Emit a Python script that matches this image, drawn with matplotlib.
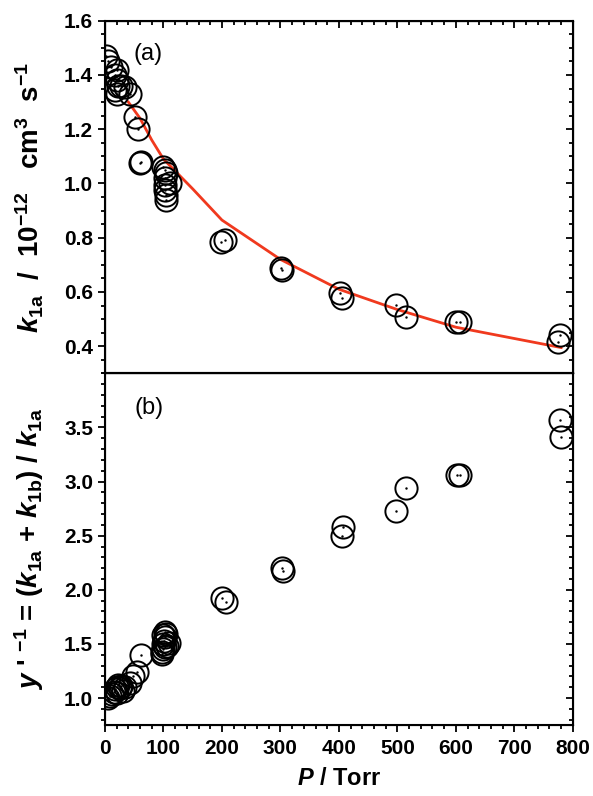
import numpy as np
import matplotlib.pyplot as plt
from matplotlib.ticker import MultipleLocator, FormatStrFormatter

plt.rcParams['font.family'] = ['Liberation Sans', 'DejaVu Sans']
plt.rcParams['font.weight'] = 'bold'
plt.rcParams['axes.labelweight'] = 'bold'
plt.rcParams['mathtext.fontset'] = 'custom'
plt.rcParams['mathtext.rm'] = 'Liberation Sans:bold'
plt.rcParams['mathtext.bf'] = 'Liberation Sans:bold'
plt.rcParams['mathtext.it'] = 'Liberation Sans:bold:italic'

# panel (a): k1a vs pressure
p_a = [2, 6, 11, 20, 18, 20, 22, 17, 20, 28, 34, 43, 51, 57, 60, 62,
       100, 102, 105, 103, 103, 102, 104, 104, 111,
       199, 205, 301, 303, 402, 406, 497, 515, 601, 607, 775, 778]
k_a = [1.47, 1.45, 1.43, 1.42, 1.40, 1.38, 1.36, 1.345, 1.33, 1.36, 1.355, 1.33, 1.245, 1.20, 1.075, 1.08,
       1.06, 1.05, 1.037, 1.02, 0.994, 0.975, 0.957, 0.94, 1.00,
       0.785, 0.793, 0.69, 0.68, 0.595, 0.578, 0.551, 0.508, 0.489, 0.489, 0.415, 0.44]

# fitted curve in panel (a)
p_fit = [40, 60, 80, 100, 150, 200, 300, 400, 500, 600, 780]
k_fit = [1.30, 1.24, 1.16, 1.09, 0.98, 0.865, 0.72, 0.61, 0.535, 0.47, 0.395]

# panel (b): (k1a + k1b) / k1a vs pressure
p_b = [5, 8, 12, 15, 18, 20, 22, 20, 25, 28, 30, 35, 42, 48, 54, 62,
       98, 100, 102, 100, 101, 103, 100, 102, 104, 110, 106, 98,
       200, 207, 303, 305, 405, 407, 497, 514, 602, 607, 778, 780]
y_b = [1.00, 1.02, 1.04, 1.06, 1.08, 1.10, 1.12, 1.05, 1.09, 1.11, 1.07, 1.10, 1.14, 1.20, 1.24, 1.40,
       1.43, 1.45, 1.47, 1.50, 1.53, 1.56, 1.58, 1.61, 1.59, 1.51, 1.48, 1.41,
       1.92, 1.89, 2.20, 2.17, 2.50, 2.58, 2.73, 2.94, 3.06, 3.06, 3.57, 3.41]

fig = plt.figure(figsize=(5.93, 7.96), dpi=100)
ax1 = fig.add_axes([0.177, 0.531, 0.789, 0.443])
ax2 = fig.add_axes([0.177, 0.089, 0.789, 0.442])

def circles(ax, x, y):
    ax.plot(x, y, 'o', ms=16, mfc='none', mec='black', mew=1.4, zorder=3)
    ax.plot(x, y, '.', ms=1.5, color='black', zorder=3)

def ticks(ax, **kw):
    ax.tick_params(which='both', width=1.3, **kw)
    ax.tick_params(which='major', length=5)
    ax.tick_params(which='minor', length=3)

for ax, lo, hi, maj, mnr in ((ax1, 0.3, 1.6, 0.2, 0.05), (ax2, 0.75, 4.0, 0.5, 0.1)):
    for s in ax.spines.values():
        s.set_linewidth(1.5)
    ax.set_xlim(0, 800)
    ax.set_ylim(lo, hi)
    ax.xaxis.set_major_locator(MultipleLocator(100))
    ax.xaxis.set_minor_locator(MultipleLocator(20))
    ax.yaxis.set_major_locator(MultipleLocator(maj))
    ax.yaxis.set_minor_locator(MultipleLocator(mnr))
    ax.yaxis.set_major_formatter(FormatStrFormatter('%.1f'))
    ticks(ax, labelsize=15, direction='out', left=True, right=False, bottom=True, top=False)
    ax.tick_params(axis='x', pad=5)
    # inward ticks on the right
    r = ax.twinx()
    r.set_ylim(lo, hi)
    r.yaxis.set_major_locator(MultipleLocator(maj))
    r.yaxis.set_minor_locator(MultipleLocator(mnr))
    ticks(r, direction='in', labelright=False)

# panel (a)
ax1.plot(p_fit, k_fit, color='#f0391e', lw=2.0, zorder=2)
circles(ax1, p_a, k_a)
ax1.tick_params(axis='x', labelbottom=False)
ax1.set_ylabel(r'$k_{\mathbf{1a}}$  /  10$^{\mathbf{-12}}$   cm$^{\mathbf{3}}$  s$^{\mathbf{-1}}$', fontsize=20)
ax1.text(48, 1.478, '(a)', fontsize=17, fontweight='normal', va='center', ha='left')

# inward ticks on top of (a)
top = ax1.twiny()
top.set_xlim(0, 800)
top.xaxis.set_major_locator(MultipleLocator(100))
top.xaxis.set_minor_locator(MultipleLocator(20))
ticks(top, direction='in', labeltop=False)

# panel (b)
circles(ax2, p_b, y_b)
ax2.set_ylim(0.75, 4.0)
ax2.set_yticks([1.0, 1.5, 2.0, 2.5, 3.0, 3.5])
ax2.set_ylabel(r"$y$ ' $^{\mathbf{-1}}$ = ($k_{\mathbf{1a}}$ + $k_{\mathbf{1b}}$) / $k_{\mathbf{1a}}$", fontsize=20)
ax2.set_xlabel(r'$P$ / Torr', fontsize=17)
ax2.text(51, 3.68, '(b)', fontsize=17, fontweight='normal', va='center', ha='left')

ax1.yaxis.set_label_coords(-0.125, 0.5)
ax2.yaxis.set_label_coords(-0.125, 0.5)
ax2.xaxis.set_label_coords(0.5, -0.12)

fig.savefig('out.png', dpi=100)
